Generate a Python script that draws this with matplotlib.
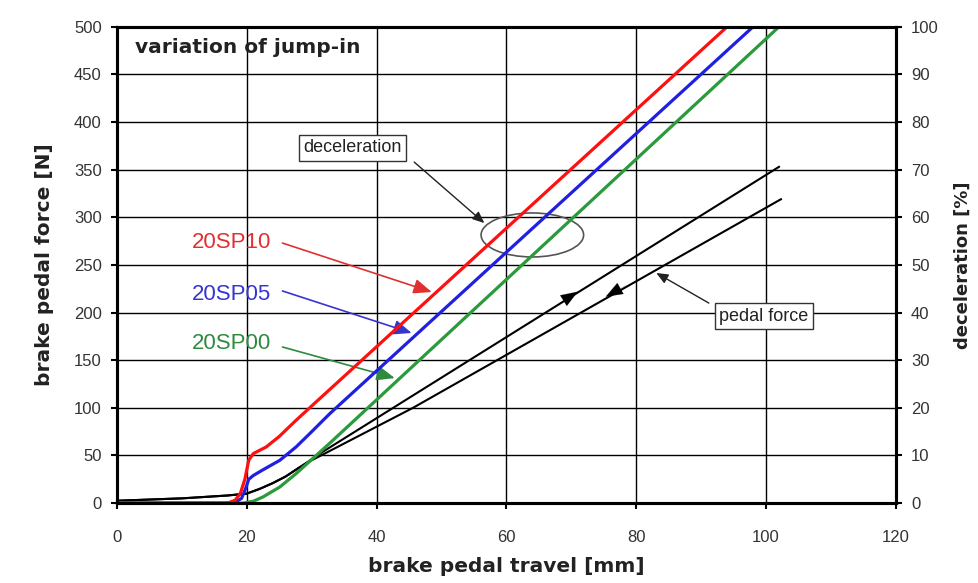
import numpy as np
import matplotlib
matplotlib.use('Agg')
import matplotlib.pyplot as plt
from matplotlib.patches import Ellipse

plt.rcParams['font.family'] = ['Liberation Sans', 'DejaVu Sans']

# deceleration curves [%] over pedal travel [mm]
x_sp10 = [0, 17, 18.2, 19, 19.7, 20.3, 21, 23, 25, 27.6, 30, 94]
d_sp10 = [0, 0, 0.6, 2, 5, 9, 10.4, 11.8, 14, 17.4, 20.4, 100]
x_sp05 = [0, 18, 19.2, 19.8, 20.3, 21, 22.5, 25.1, 27.6, 30, 32.8, 98]
d_sp05 = [0, 0, 1, 3, 5, 5.8, 7, 9, 11.8, 15, 18.8, 100]
x_sp00 = [0, 19.4, 21, 22.5, 25.1, 27.6, 30.2, 32.8, 102]
d_sp00 = [0, 0, 0.4, 1.3, 3.4, 6.2, 9.4, 12.6, 100]

# pedal force [N], apply and release
x_up = [0, 10, 17, 20, 22, 24, 26, 28, 30, 31.5, 102]
f_up = [2.5, 5, 8, 10, 15, 21, 28, 37, 46, 53, 353]
x_down = [0, 10, 17, 20, 22, 24, 26, 28, 30, 32, 45.6, 102.3]
f_down = [2.5, 5, 8, 10, 15, 21, 28, 37, 45, 52, 100, 319]

fig = plt.figure(figsize=(9.79, 5.83), dpi=100)
ax = fig.add_axes([0.1195, 0.137, 0.7955, 0.817])
ax2 = ax.twinx()

tick_col = '#333333'
lab_col = '#222222'
bold_font = ['DejaVu Sans']
ax.set_xlim(0, 120)
ax.set_ylim(0, 500)
ax2.set_ylim(0, 100)
ax.set_xticks(np.arange(0, 121, 20))
ax.set_yticks(np.arange(0, 501, 50))
ax2.set_yticks(np.arange(0, 101, 10))
ax.grid(True, color='black', linewidth=1.0)
ax.set_axisbelow(True)

for a in (ax, ax2):
    for s in a.spines.values():
        s.set_linewidth(2.2)
    a.tick_params(labelsize=12, labelcolor=tick_col, width=1.5, length=4, direction='out', pad=7)
ax.tick_params(axis='x', pad=15)

ax.set_xlabel('brake pedal travel [mm]', fontsize=14.5, fontweight='bold', color=lab_col,
              family=bold_font, labelpad=9)
ax.set_ylabel('brake pedal force [N]', fontsize=14.5, fontweight='bold', color=lab_col,
              family=bold_font, labelpad=14)
ax2.set_ylabel('deceleration [%]', fontsize=13, fontweight='bold', color=lab_col,
               family=bold_font, labelpad=11)

# pedal force lines
ax.plot(x_up, f_up, color='black', lw=1.5, zorder=3)
ax.plot(x_down, f_down, color='black', lw=1.5, zorder=3)
black_head = dict(arrowstyle='-|>,head_length=1.2,head_width=0.45', color='black', lw=0.1,
                  shrinkA=0, shrinkB=0)
ax.annotate('', xy=(71, 222), xytext=(68.2, 210), arrowprops=black_head)
ax.annotate('', xy=(75.3, 216.7), xytext=(78.4, 228.5), arrowprops=black_head)

# deceleration lines
ax2.plot(x_sp00, d_sp00, color='#2a9a3a', lw=2.3)
ax2.plot(x_sp05, d_sp05, color='#2020e0', lw=2.3)
ax2.plot(x_sp10, d_sp10, color='#ff1010', lw=2.3)

ax.text(2.8, 478, 'variation of jump-in', fontsize=14.5, fontweight='bold', color=lab_col,
        family=bold_font, va='center')

# labels for the variants
labels = [('20SP10', '#e03030', 274, (25.5, 273), (48.5, 221.6)),
          ('20SP05', '#3535d0', 218.5, (25.5, 222.7), (45.4, 178.6)),
          ('20SP00', '#2e8b3e', 168, (25.5, 163.9), (42.8, 131.3))]
for txt, col, ty, start, tip in labels:
    ax.text(17.7, ty, txt, fontsize=16, color=col, ha='center', va='center')
    ax.annotate('', xy=tip, xytext=start,
                arrowprops=dict(arrowstyle='-|>,head_length=1.1,head_width=0.45',
                                color=col, lw=1.2, shrinkA=0, shrinkB=0), zorder=4)

# deceleration callout
ax.text(36.3, 373, 'deceleration', fontsize=13, color=lab_col, ha='center', va='center',
        bbox=dict(boxstyle='square,pad=0.25', fc='white', ec='#333333', lw=1))
ax.annotate('', xy=(56.6, 294), xytext=(45.8, 358),
            arrowprops=dict(arrowstyle='-|>,head_length=0.7,head_width=0.3',
                            color=lab_col, lw=1, shrinkA=0, shrinkB=0))
ax.add_patch(Ellipse((64, 281.5), 15.8, 46.2, fill=False, ec='#555555', lw=1.2, zorder=5))

# pedal force callout
ax.text(99.7, 196, 'pedal force', fontsize=13, color=lab_col, ha='center', va='center',
        bbox=dict(boxstyle='square,pad=0.25', fc='white', ec='#333333', lw=1), zorder=6)
ax.annotate('', xy=(83.1, 241.6), xytext=(91.2, 210),
            arrowprops=dict(arrowstyle='-|>,head_length=0.7,head_width=0.3',
                            color=lab_col, lw=1, shrinkA=0, shrinkB=0))

fig.savefig('out.png', dpi=100)
